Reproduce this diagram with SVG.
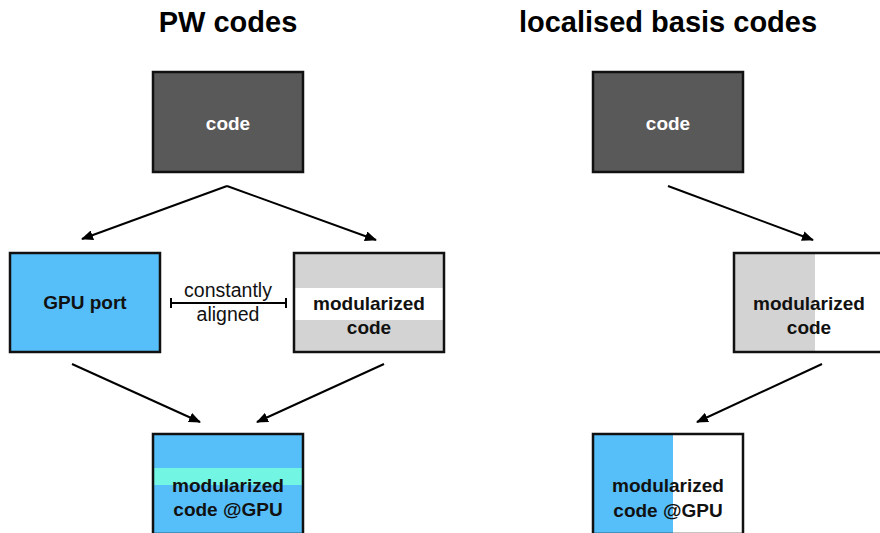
<svg xmlns="http://www.w3.org/2000/svg" width="880" height="533" viewBox="0 0 880 533">
<style>
.box{stroke:#111;stroke-width:2.5;fill:none}
.t{font-family:"Liberation Sans",Arial,sans-serif;font-weight:bold;font-size:19px;fill:#111;text-anchor:middle}
.w{fill:#fff}
.title{font-family:"Liberation Sans",Arial,sans-serif;font-weight:bold;font-size:29px;fill:#000;text-anchor:middle}
.lbl{font-family:"Liberation Sans",Arial,sans-serif;font-size:19.5px;fill:#111;text-anchor:middle}
.c{stroke:#000;stroke-width:2;fill:none}
</style>
<defs>
<marker id="ah" viewBox="0 0 12 10" refX="11" refY="5" markerWidth="12" markerHeight="10" markerUnits="userSpaceOnUse" orient="auto">
<path d="M0,0 L12,5 L0,10 z" fill="#000"/>
</marker>
</defs>
<text class="title" x="228" y="32">PW codes</text>
<text class="title" x="668" y="32">localised basis codes</text>

<g id="code-pw">
<rect x="153" y="72" width="150" height="100" fill="#595959"/>
<rect class="box" x="153" y="72" width="150" height="100"/>
<text class="t w" x="228" y="130">code</text>
</g>
<g id="gpu-port">
<rect x="10" y="253" width="150" height="99" fill="#56bff9"/>
<rect class="box" x="10" y="253" width="150" height="99"/>
<text class="t" x="85" y="309">GPU port</text>
</g>
<g id="mod-pw">
<rect x="294" y="253" width="150" height="99" fill="#d3d3d3"/>
<rect x="294" y="288" width="150" height="32" fill="#fff"/>
<rect class="box" x="294" y="253" width="150" height="99"/>
<text class="t" x="369" y="310">modularized</text>
<text class="t" x="369" y="334">code</text>
</g>
<g id="gpu-pw">
<rect x="153" y="434" width="150" height="100" fill="#56bff9"/>
<rect x="153" y="468" width="150" height="17" fill="#72f5e2"/>
<rect class="box" x="153" y="434" width="150" height="100"/>
<text class="t" x="228" y="492">modularized</text>
<text class="t" x="228" y="516">code @GPU</text>
</g>

<g id="code-lb">
<rect x="593" y="72" width="150" height="100" fill="#595959"/>
<rect class="box" x="593" y="72" width="150" height="100"/>
<text class="t w" x="668" y="130">code</text>
</g>
<g id="mod-lb">
<rect x="734" y="253" width="150" height="99" fill="#fff"/>
<rect x="734" y="253" width="81" height="99" fill="#d3d3d3"/>
<rect class="box" x="734" y="253" width="150" height="99"/>
<text class="t" x="809" y="310">modularized</text>
<text class="t" x="809" y="334">code</text>
</g>
<g id="gpu-lb">
<rect x="593" y="434" width="150" height="100" fill="#fff"/>
<rect x="593" y="434" width="80" height="100" fill="#56bff9"/>
<rect class="box" x="593" y="434" width="150" height="100"/>
<text class="t" x="668" y="492">modularized</text>
<text class="t" x="668" y="517">code @GPU</text>
</g>

<g id="connectors">
<path class="c" d="M227,186 L82,239" marker-end="url(#ah)"/>
<path class="c" d="M227,186 L376,240" marker-end="url(#ah)"/>
<path class="c" d="M72,364 L200,422" marker-end="url(#ah)"/>
<path class="c" d="M384,364 L257,422" marker-end="url(#ah)"/>
<path class="c" d="M668,186 L813,240" marker-end="url(#ah)"/>
<path class="c" d="M822,364 L697,422" marker-end="url(#ah)"/>
<path class="c" d="M171,303 L286,303 M171,298 L171,308 M286,298 L286,308" stroke-width="1.5"/>
<text class="lbl" x="228" y="297">constantly</text>
<text class="lbl" x="228" y="321">aligned</text>
</g>
</svg>
